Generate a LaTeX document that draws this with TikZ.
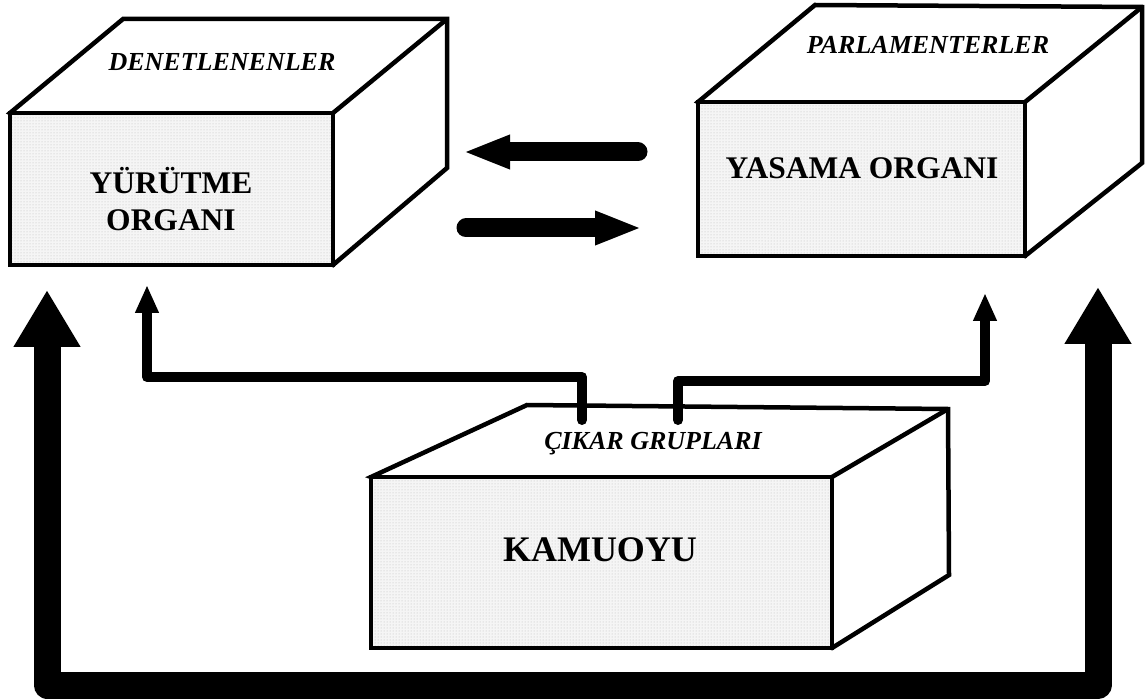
\documentclass[tikz,border=0pt]{standalone}
\usepackage{fontspec}
\setmainfont{Liberation Serif}
\usetikzlibrary{arrows.meta,patterns}
\begin{document}
\begin{tikzpicture}[x=1pt,y=-1pt,
  face/.style={draw,line width=4.5pt,fill=white,line join=miter},
  front/.style={draw,line width=4.5pt,inner sep=0pt,preaction={fill=gray!8},pattern=dots,pattern color=gray!55},
  mainlbl/.style={font=\fontsize{31.5}{37}\selectfont\bfseries,align=center,inner sep=0pt},
  toplbl/.style={font=\fontsize{26}{30}\selectfont\bfseries\itshape,inner sep=0pt},
  bigarrow/.style={line width=27pt,line join=round,arrows={Triangle[length=57pt,width=63pt]-Triangle[length=57pt,width=63pt]}},
  smallarrow/.style={line width=10pt,line join=round,line cap=round,arrows={-Triangle[length=28pt,width=22pt]}},
  midarrow/.style={line width=19pt,line cap=round,arrows={-Triangle[length=47pt,width=31pt]}}
]
\useasboundingbox (0,0) rectangle (1148,700);

% ---- left box: YURUTME ORGANI
\draw[face] (10,113) -- (123,19) -- (447,19) -- (447,168) -- (333,265) -- cycle;
\draw[face] (333,113) -- (447,19);
\node[front,minimum width=323pt,minimum height=152pt] (yur) at (171.5,189) {};
\node[mainlbl] (yurt) at (171,199) {YÜRÜTME\\ORGANI};
\node[toplbl] (den) at (222,62) {DENETLENENLER};

% ---- right box: YASAMA ORGANI
\draw[face] (698,102) -- (815,5) -- (1142,7) -- (1142,163) -- (1025,256) -- cycle;
\draw[face] (1025,102) -- (1142,7);
\node[front,minimum width=327pt,minimum height=154pt] (yas) at (861.5,179) {};
\node[mainlbl] (yast) at (862,168) {YASAMA ORGANI};
\node[toplbl] (par) at (928,45) {PARLAMENTERLER};

% ---- bottom box: KAMUOYU
\draw[face] (371,477) -- (527,405) -- (948,409) -- (949,575) -- (832,648) -- cycle;
\draw[face] (832,477) -- (948,409);
\node[front,minimum width=461pt,minimum height=171pt] (kam) at (601.5,562.5) {};
\node[mainlbl,font=\fontsize{36}{40}\selectfont\bfseries] (kamt) at (600,550) {KAMUOYU};
\node[toplbl] (cik) at (653,444) {ÇIKAR GRUPLARI};

% ---- coordinates for connector ends
\coordinate (kl) at (582,420);
\coordinate (kr) at (678,420);
\coordinate (yurin) at (147,285);
\coordinate (yasin) at (985,293);
\coordinate (ltip) at (47,290);
\coordinate (rtip) at (1098,287);
\coordinate (m1s) at (638,152);
\coordinate (m1e) at (463,152);
\coordinate (m2s) at (466,228);
\coordinate (m2e) at (642,228);

% ---- connectors
\draw[smallarrow] (kl) -- (582,377) -- (147,377) -- (yurin);
\draw[smallarrow] (kr) -- (678,381) -- (985,381) -- (yasin);
\draw[bigarrow] (ltip) -- (47,685) -- (1098,685) -- (rtip);
\draw[midarrow] (m1s) -- (m1e);
\draw[midarrow] (m2s) -- (m2e);
\end{tikzpicture}
\end{document}
